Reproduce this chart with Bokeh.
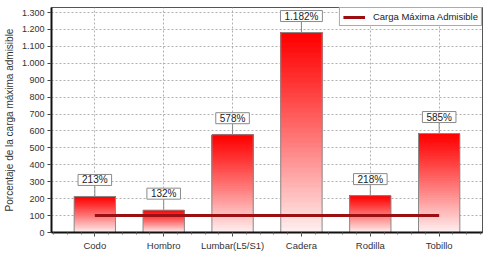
from bokeh.plotting import figure
from bokeh.models import (Range1d, FixedTicker, ColumnDataSource,
                          Legend, LegendItem)
from bokeh.core.properties import value
from bokeh.embed import file_html
from bokeh.resources import INLINE

categories = ["Codo", "Hombro", "Lumbar(L5/S1)", "Cadera", "Rodilla", "Tobillo"]
values = [213, 132, 578, 1182, 218, 585]
value_labels = ["213%", "132%", "578%", "1.182%", "218%", "585%"]
limit_value = 100
y_ticks = list(range(0, 1301, 100))
y_tick_labels = ["0", "100", "200", "300", "400", "500", "600", "700", "800",
                 "900", "1.000", "1.100", "1.200", "1.300"]

FONT = "Liberation Sans"
N_SLICES = 40
BAR_W = 0.6

p = figure(width=487, height=255, output_backend="svg", toolbar_location=None,
           x_range=Range1d(-0.629, 5.629), y_range=Range1d(0, 1330),
           min_border_left=44, min_border_right=5, min_border_top=7,
           min_border_bottom=23)
p.background_fill_color = "white"
p.border_fill_color = "white"
p.outline_line_color = "#555555"
p.outline_line_width = 1

xs = list(range(len(categories)))

# gradient bars: overlapping slices, each reaching to the bar top
sx, sb, st, sc = [], [], [], []
for i, v in enumerate(values):
    for k in range(N_SLICES):
        f = (k + 0.5) / N_SLICES  # 0 bottom, 1 top
        g = int(round(240 * (1 - f) ** 1.1))
        sx.append(xs[i])
        sb.append(v * k / N_SLICES)
        st.append(v)
        sc.append("#%02x%02x%02x" % (255, g, g))
p.vbar(x=sx, bottom=sb, top=st, width=BAR_W, fill_color=sc, line_color=None)
p.vbar(x=xs, top=values, width=BAR_W, fill_color=None, line_color="#8a8a8a",
       line_width=1)

# connectors from bar top to label box
px_per_unit = 220 / 1300.0
conn = 11 / px_per_unit
p.segment(x0=xs, x1=xs, y0=values, y1=[v + conn for v in values],
          line_color="#8a8a8a", line_width=1)

src = ColumnDataSource(dict(x=xs, y=values, t=value_labels))
p.text(x="x", y="y", text="t", source=src, y_offset=-11,
       text_align="center", text_baseline="bottom",
       text_font=value(FONT), text_font_size="10px", text_color="#222222",
       text_line_height=1.0,
       background_fill_color="white", border_line_color="#8a8a8a",
       border_line_width=1, padding=(4, 0))

# maximum admissible load line
lr = p.segment(x0=[xs[0]], x1=[xs[-1]], y0=[limit_value], y1=[limit_value],
               line_color="#9b0f12", line_width=3)

legend = Legend(items=[LegendItem(label="Carga Máxima Admisible", renderers=[lr])],
                location="top_right", margin=0, padding=3, spacing=0,
                glyph_width=22, glyph_height=10, label_standoff=8,
                label_text_font=FONT, label_text_font_size="9.5px",
                label_text_color="#222222", label_height=10,
                border_line_color="#555555", border_line_width=1,
                background_fill_alpha=1.0)
p.add_layout(legend)

# grids
p.xgrid.ticker = FixedTicker(ticks=xs)
p.ygrid.ticker = FixedTicker(ticks=y_ticks)
for g in (p.xgrid, p.ygrid):
    g.grid_line_color = "#b0b0b0"
    g.grid_line_dash = "2 2"
    g.grid_line_width = 1

# axes
p.xaxis.ticker = FixedTicker(ticks=xs,
                             minor_ticks=[x / 5 for x in range(-3, 29)])
p.xaxis.major_label_overrides = {i: c for i, c in enumerate(categories)}
p.yaxis.ticker = FixedTicker(ticks=y_ticks)
p.yaxis.major_label_overrides = {t: l for t, l in zip(y_ticks, y_tick_labels)}
p.yaxis.axis_label = "Porcentaje de la carga máxima admisible"
p.yaxis.axis_label_text_font = FONT
p.yaxis.axis_label_text_font_size = "10px"
p.yaxis.axis_label_text_font_style = "normal"
p.yaxis.axis_label_text_color = "#333333"
p.yaxis.axis_label_standoff = 4

for ax in (p.xaxis, p.yaxis):
    ax.axis_line_color = "#111111"
    ax.axis_line_width = 2
    ax.major_tick_line_color = "#444444"
    ax.minor_tick_line_color = "#666666"
    ax.major_tick_in = 0
    ax.major_tick_out = 4
    ax.minor_tick_in = 0
    ax.minor_tick_out = 2
    ax.major_label_text_font = FONT
    ax.major_label_text_font_size = "9.5px"
    ax.major_label_text_color = "#333333"
    ax.major_label_standoff = 3
p.yaxis.major_label_text_font_size = "9px"
p.yaxis.minor_tick_line_color = None

open("out.html", "w").write(file_html(p, INLINE))
